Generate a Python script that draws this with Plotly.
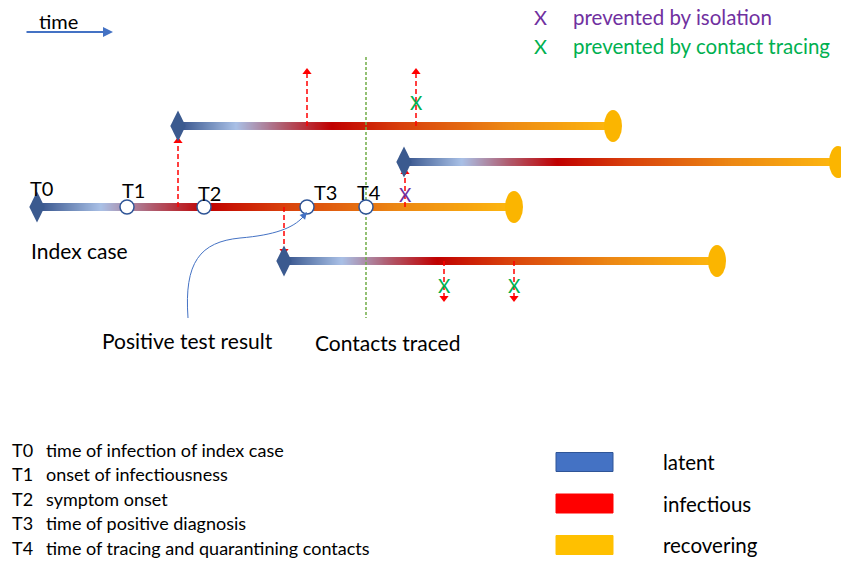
import numpy as np
import plotly.graph_objects as go

# ---------------- data ----------------
case_names = ["Index case", "Contact A", "Contact B", "Contact C"]
start_x = [37, 178, 404, 284]
end_x = [514, 613, 838, 717]
row_y = [207, 126, 162, 261]

milestone_labels = ["T0", "T1", "T2", "T3", "T4"]
milestone_x = [37, 127, 204, 307, 366]
milestone_desc = ["time of infection of index case", "onset of infectiousness",
                  "symptom onset", "time of positive diagnosis",
                  "time of tracing and quarantining contacts"]

tx_x = [178, 307, 416, 405, 284, 444, 514]
tx_from_y = [207, 126, 126, 207, 207, 261, 261]
tx_to_y = [141, 72, 72, 172, 251, 298, 298]
tx_block = ["", "", "tracing", "isolation", "", "tracing", "tracing"]
tx_mark_y = [None, None, 102, 194, None, 285, 285]

stage_labels = ["latent", "infectious", "recovering"]
stage_colors = ["#4472C4", "#FF0000", "#FFC000"]

block_labels = ["prevented by isolation", "prevented by contact tracing"]
block_colors = {"isolation": "#7030A0", "tracing": "#00B050"}

FONT = "Lato"
grad = [[0, "#2E4C85"], [0.14, "#A9C0E6"], [0.25, "#B05A6C"], [0.36, "#C00000"],
        [0.52, "#D8400C"], [0.76, "#EC8714"], [1, "#FDB70F"]]

fig = go.Figure()
shapes = []
ann = []

# gradient timelines
for s, e, y in zip(start_x, end_x, row_y):
    xs = np.arange(s, e + 1, 1.0)
    frac = (xs - s) / (e - s)
    fig.add_trace(go.Scatter(x=xs, y=[y] * len(xs), mode="markers", hoverinfo="skip",
                             marker=dict(symbol="square", size=7, color=frac, colorscale=grad,
                                         cmin=0, cmax=1, line=dict(width=0)),
                             showlegend=False))
    shapes.append(dict(type="circle", xref="x", yref="y", x0=e - 9, x1=e + 9, y0=y - 16, y1=y + 16,
                       fillcolor="#FBB500", line=dict(width=0), layer="above"))

# green dashed line (contacts traced at T4)
fig.add_trace(go.Scatter(x=[milestone_x[4], milestone_x[4]], y=[57, 318], mode="lines",
                         line=dict(color="#70AD47", width=1.5, dash="3px,2px"),
                         hoverinfo="skip", showlegend=False))

# transmission arrows
for x, y0, y1, blk, my in zip(tx_x, tx_from_y, tx_to_y, tx_block, tx_mark_y):
    fig.add_trace(go.Scatter(x=[x, x], y=[y0, y1], mode="lines",
                             line=dict(color="#FF0000", width=1.5, dash="5px,3px"),
                             hoverinfo="skip", showlegend=False))
    sym = "triangle-up" if y1 < y0 else "triangle-down"
    fig.add_trace(go.Scatter(x=[x], y=[y1], mode="markers", hoverinfo="skip",
                             marker=dict(symbol=sym, size=8, color="#FF0000", line=dict(width=0)),
                             showlegend=False))
    if blk:
        ann.append(dict(x=x, y=my, text="X", showarrow=False,
                        font=dict(family=FONT, size=19, color=block_colors[blk])))

# start diamonds
fig.add_trace(go.Scatter(x=start_x, y=row_y, mode="markers", hoverinfo="skip",
                         marker=dict(symbol="diamond-tall", size=22, color="#3B5A8F", line=dict(width=0)),
                         showlegend=False))

# milestone circles
fig.add_trace(go.Scatter(x=milestone_x[1:], y=[row_y[0]] * 4, mode="markers", hoverinfo="skip",
                         marker=dict(symbol="circle", size=14, color="white",
                                     line=dict(color="#2F5597", width=1.5)),
                         showlegend=False))

lab_dx = [4, 6, 5, 18, 3]
lab_y = [188, 190, 193, 192, 192]
for lab, x, dx, ly in zip(milestone_labels, milestone_x, lab_dx, lab_y):
    ann.append(dict(x=x + dx, y=ly, text=lab, showarrow=False,
                    font=dict(family=FONT, size=20, color="black")))

ann.append(dict(x=29, y=250, text="Index case", showarrow=False, xanchor="left",
                font=dict(family=FONT, size=21, color="black")))
ann.append(dict(x=187, y=340, text="Positive test result", showarrow=False,
                font=dict(family=FONT, size=21, color="black")))
ann.append(dict(x=387, y=342, text="Contacts traced", showarrow=False,
                font=dict(family=FONT, size=21, color="black")))

# curved blue arrow
shapes.append(dict(type="path", xref="x", yref="y",
                   path="M 188 318 C 184 262, 200 242, 240 238 C 275 235, 293 228, 303 217",
                   line=dict(color="#4472C4", width=1)))
ann.append(dict(x=307, y=212, ax=301, ay=219, axref="x", ayref="y", xref="x", yref="y",
                text="", showarrow=True, arrowhead=2, arrowsize=1.2, arrowwidth=1.2,
                arrowcolor="#4472C4"))

# time arrow
ann.append(dict(x=113, y=32, ax=25, ay=32, axref="x", ayref="y", xref="x", yref="y",
                text="", showarrow=True, arrowhead=2, arrowsize=1, arrowwidth=2,
                arrowcolor="#4472C4"))
ann.append(dict(x=37, y=21, text="time", showarrow=False, xanchor="left",
                font=dict(family=FONT, size=20, color="black")))

# top-right key
for i, (lab, key) in enumerate(zip(block_labels, ["isolation", "tracing"])):
    yy = 17 + 29 * i
    ann.append(dict(x=540, y=yy, text="X", showarrow=False,
                    font=dict(family=FONT, size=20, color=block_colors[key])))
    ann.append(dict(x=571, y=yy, text=lab, showarrow=False, xanchor="left",
                    font=dict(family=FONT, size=20.5, color=block_colors[key])))

# milestone description list
for i, (lab, desc) in enumerate(zip(milestone_labels, milestone_desc)):
    yy = 450 + 24.4 * i
    ann.append(dict(x=10, y=yy, text=lab, showarrow=False, xanchor="left",
                    font=dict(family=FONT, size=18, color="black")))
    ann.append(dict(x=44, y=yy, text=desc, showarrow=False, xanchor="left",
                    font=dict(family=FONT, size=18, color="black")))

# stage legend
for i, (lab, col) in enumerate(zip(stage_labels, stage_colors)):
    yc = 462 + 41.5 * i
    shapes.append(dict(type="rect", xref="x", yref="y", x0=556, x1=613, y0=yc - 9.5, y1=yc + 9.5,
                       fillcolor=col, line=dict(color="#2F5597" if i == 0 else col, width=1)))
    ann.append(dict(x=661, y=yc, text=lab, showarrow=False, xanchor="left",
                    font=dict(family=FONT, size=20.5, color="black")))

# page has an 8px body margin: size the figure and shift ranges so data units = page pixels
OFF = 8
fig.update_layout(width=849 - OFF, height=562 - OFF, autosize=False,
                  margin=dict(l=0, r=0, t=0, b=0, pad=0),
                  paper_bgcolor="white", plot_bgcolor="white",
                  xaxis=dict(range=[OFF, 849], visible=False, fixedrange=True),
                  yaxis=dict(range=[562, OFF], visible=False, fixedrange=True),
                  shapes=shapes, annotations=ann, showlegend=False)

fig.write_html("out.html")
